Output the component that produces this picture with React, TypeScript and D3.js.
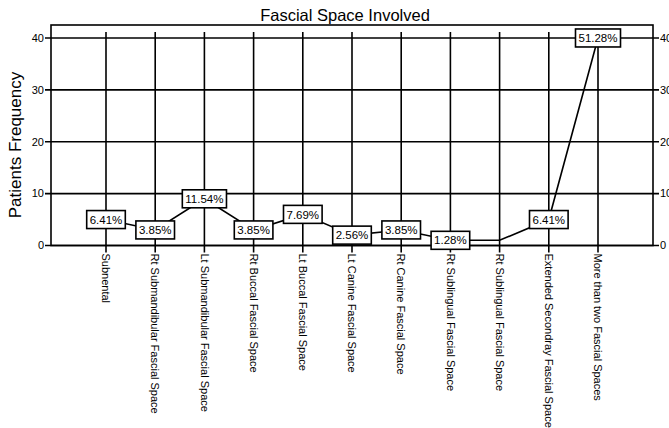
import React, { useEffect, useRef } from "react";
import * as d3 from "d3";

const categories = [
  "Subnental",
  "Rt Submandibular Fascial Space",
  "Lt Submandibular Fascial Space",
  "Rt Buccal Fascial Space",
  "Lt Buccal Fascial Space",
  "Lt Canine Fascial Space",
  "Rt Canine Fascial Space",
  "Rt Sublingual Fascial Space",
  "Rt Sublingual Fascial Space",
  "Extended Secondray Fascial Space",
  "More than two Fascial Spaces",
];
const frequencies = [5, 3, 9, 3, 6, 2, 3, 1, 1, 5, 40];
const percentLabels = ["6.41%", "3.85%", "11.54%", "3.85%", "7.69%", "2.56%", "3.85%", "1.28%", "", "6.41%", "51.28%"];
const yTicks = [0, 10, 20, 30, 40];

const W = 669;
const H = 428;
const FONT = "'Liberation Sans', Arial, sans-serif";

export default function App() {
  const ref = useRef<SVGSVGElement>(null);
  useEffect(() => {
    const svg = d3.select(ref.current);
    svg.selectAll("*").remove();
    const left = 51, right = 653, top = 25, bottom = 245.5;
    const x = d3.scalePoint<number>().domain(categories.map((_, i) => i)).range([106, 598]);
    const y = d3.scaleLinear().domain([0, 42.5]).range([bottom, top]);

    const g = svg.append("g");
    yTicks.forEach((t) => {
      g.append("line").attr("x1", left - 6).attr("x2", right + 6).attr("y1", y(t)).attr("y2", y(t))
        .attr("stroke", "#000").attr("stroke-width", 1.6);
      g.append("text").attr("x", left - 7).attr("y", y(t)).attr("dy", "0.35em").attr("text-anchor", "end")
        .attr("font-size", 11).attr("font-family", FONT).text(t);
      g.append("text").attr("x", right + 7).attr("y", y(t)).attr("dy", "0.35em").attr("text-anchor", "start")
        .attr("font-size", 11).attr("font-family", FONT).text(t);
    });
    categories.forEach((c, i) => {
      g.append("line").attr("x1", x(i)!).attr("x2", x(i)!).attr("y1", 32).attr("y2", bottom + 7)
        .attr("stroke", "#000").attr("stroke-width", 1.6);
      g.append("text")
        .attr("transform", `translate(${x(i)!},${bottom + 8}) rotate(90)`)
        .attr("dy", "0.35em")
        .attr("text-anchor", "start").attr("font-size", 11).attr("font-family", FONT).text(c);
    });
    g.append("rect").attr("x", left).attr("y", top).attr("width", right - left).attr("height", bottom - top)
      .attr("fill", "none").attr("stroke", "#000").attr("stroke-width", 1.6);

    const line = d3.line<number>().x((_, i) => x(i)!).y((d) => y(d));
    g.append("path").datum(frequencies).attr("d", line).attr("fill", "none")
      .attr("stroke", "#000").attr("stroke-width", 1.6);

    frequencies.forEach((v, i) => {
      const lbl = percentLabels[i];
      if (!lbl) return;
      const lg = g.append("g");
      const rect = lg.append("rect");
      const txt = lg.append("text").attr("x", x(i)!).attr("y", y(v)).attr("dy", "0.36em")
        .attr("text-anchor", "middle").attr("font-size", 11.5).attr("font-family", FONT).text(lbl);
      const w = (txt.node() as SVGTextElement).getComputedTextLength() + 6;
      rect.attr("x", x(i)! - w / 2).attr("y", y(v) - 9).attr("width", w).attr("height", 18)
        .attr("fill", "#fff").attr("stroke", "#000").attr("stroke-width", 1.6);
    });

    svg.append("text").attr("x", 345).attr("y", 21).attr("text-anchor", "middle")
      .attr("font-size", 16.5).attr("font-family", FONT).text("Fascial Space Involved");
    svg.append("text").attr("transform", `translate(21,145) rotate(-90)`)
      .attr("text-anchor", "middle").attr("font-size", 17).attr("font-family", FONT).text("Patients Frequency");
  }, []);
  return (
    <svg ref={ref} width={W} height={H} style={{ position: "absolute", left: 0, top: 0, background: "#fff" }} />
  );
}
